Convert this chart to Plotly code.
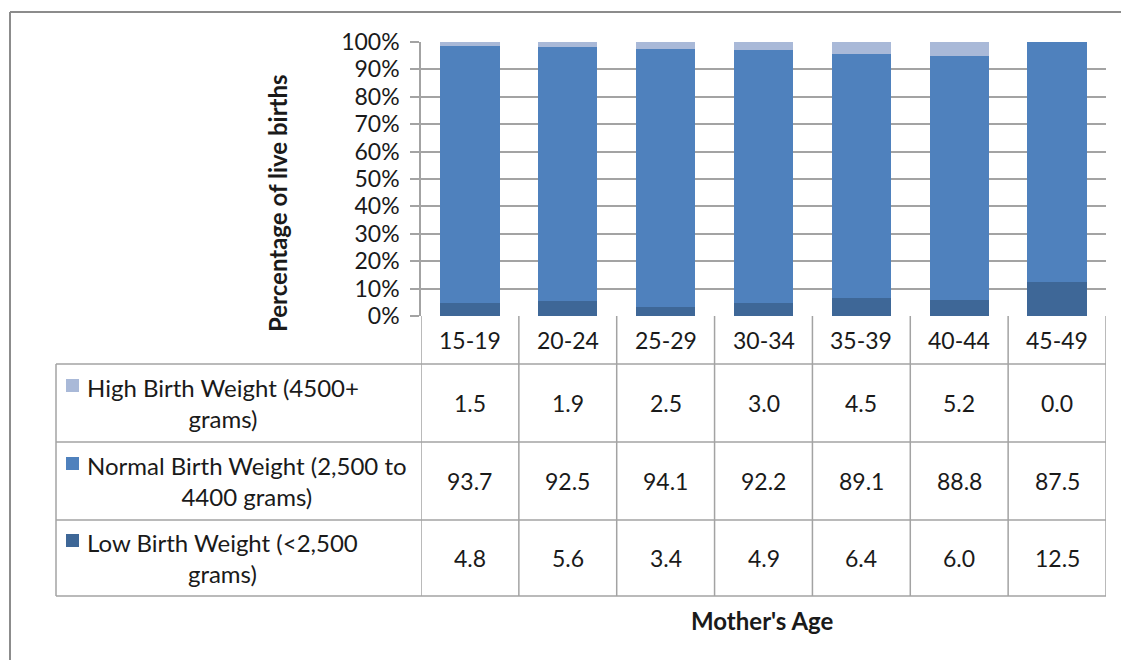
import plotly.graph_objects as go

# Mother's age groups and birth-weight shares (% of live births)
ages = ["15-19", "20-24", "25-29", "30-34", "35-39", "40-44", "45-49"]
high_bw = [1.5, 1.9, 2.5, 3.0, 4.5, 5.2, 0.0]
normal_bw = [93.7, 92.5, 94.1, 92.2, 89.1, 88.8, 87.5]
low_bw = [4.8, 5.6, 3.4, 4.9, 6.4, 6.0, 12.5]
series_names = [
    "High Birth Weight (4500+<br>grams)",
    "Normal Birth Weight (2,500 to<br>4400 grams)",
    "Low Birth Weight (<2,500<br>grams)",
]
y_ticks = [0, 10, 20, 30, 40, 50, 60, 70, 80, 90, 100]

W, H = 1121, 660
FONT = "Lato, 'Open Sans', sans-serif"
TXT = "#1a1a1a"
LINE = "#a3a3a3"
COLORS = {"low": "#3e6797", "normal": "#4f81bd", "high": "#a9b9d8"}

# pixel layout helpers
PX_L, PX_R = 421, 1106          # plot area left/right
PX_T, PX_B = 42, 316            # plot area top/bottom
TBL_L = 56                      # table row-header column left
ROW_Y = [364, 442, 520, 596]    # table horizontal rules


def px(x):
    return x / W


def py(y):
    return 1 - y / H


def label(x, y, text, size=23, xref="paper", xanchor="center", bold=False, **kw):
    return dict(x=x, y=y, xref=xref, yref="paper",
                text=f"<b>{text}</b>" if bold else text,
                showarrow=False, xanchor=xanchor, yanchor="middle",
                font=dict(family=FONT, size=size, color=TXT), **kw)


fig = go.Figure()
for vals, key, name in [(low_bw, "low", series_names[2]),
                        (normal_bw, "normal", series_names[1]),
                        (high_bw, "high", series_names[0])]:
    fig.add_trace(go.Bar(x=ages, y=vals, name=name.replace("<br>", " "),
                         marker=dict(color=COLORS[key], line=dict(width=0)),
                         showlegend=False, hoverinfo="x+y"))

shapes = []
annotations = []

# outer chart-area border (left and top edges)
shapes.append(dict(type="line", xref="paper", yref="paper",
                   x0=px(10), x1=px(W + 5), y0=py(12), y1=py(12),
                   line=dict(color="#8c8c8c", width=2)))
shapes.append(dict(type="line", xref="paper", yref="paper",
                   x0=px(10), x1=px(10), y0=py(12), y1=py(H + 5),
                   line=dict(color="#8c8c8c", width=2)))

# data table: vertical rules between age columns
for i in range(len(ages) + 1):
    shapes.append(dict(type="line", xref="x", yref="paper",
                       x0=i - 0.5, x1=i - 0.5, y0=py(PX_B), y1=py(ROW_Y[-1]),
                       line=dict(color=LINE, width=1.5)))
# left edge of the row-header column
shapes.append(dict(type="line", xref="paper", yref="paper",
                   x0=px(TBL_L), x1=px(TBL_L), y0=py(ROW_Y[0]), y1=py(ROW_Y[-1]),
                   line=dict(color=LINE, width=1.5)))
# horizontal rules
for yy in ROW_Y:
    shapes.append(dict(type="line", xref="paper", yref="paper",
                       x0=px(TBL_L), x1=px(PX_R), y0=py(yy), y1=py(yy),
                       line=dict(color=LINE, width=1.5)))

# category labels in the header row
for a in ages:
    annotations.append(label(a, py((PX_B + ROW_Y[0]) / 2), a, xref="x"))

# table rows: legend key, series name, values
rows = [(high_bw, "high", series_names[0]),
        (normal_bw, "normal", series_names[1]),
        (low_bw, "low", series_names[2])]
for r, (vals, key, name) in enumerate(rows):
    top, bot = ROW_Y[r], ROW_Y[r + 1]
    mid = (top + bot) / 2
    shapes.append(dict(type="rect", xref="paper", yref="paper",
                       x0=px(66), x1=px(79), y0=py(mid - 24), y1=py(mid - 11),
                       fillcolor=COLORS[key], line=dict(width=0)))
    annotations.append(label(px(85), py(mid), name, size=24,
                             xanchor="left", align="center"))
    for a, v in zip(ages, vals):
        annotations.append(label(a, py(mid), f"{v:.1f}", xref="x"))

# axis titles
annotations.append(label(px(277), py(203), "Percentage of live births",
                         size=24, bold=True, textangle=-90))
annotations.append(label(px(762), py(620), "Mother's Age", size=24, bold=True))

fig.update_layout(
    width=W, height=H,
    margin=dict(l=0, r=0, t=0, b=0),
    paper_bgcolor="white", plot_bgcolor="white",
    barmode="stack", barnorm="percent", bargap=0.395,
    xaxis=dict(domain=[px(PX_L), px(PX_R)], range=[-0.5, len(ages) - 0.5],
               showticklabels=False, ticks="", showgrid=False,
               showline=False, zeroline=False, fixedrange=True),
    yaxis=dict(domain=[py(PX_B), py(PX_T)], range=[0, 100],
               tickvals=y_ticks, ticktext=[f"{t}%" for t in y_ticks],
               ticks="outside", ticklen=9, tickcolor=LINE, tickwidth=1.5,
               showgrid=True, gridcolor=LINE, gridwidth=1.5,
               showline=True, linecolor=LINE, linewidth=1.5,
               zeroline=False, ticklabelstandoff=6, automargin=False,
               tickfont=dict(family=FONT, size=23, color=TXT), fixedrange=True),
    shapes=shapes,
    annotations=annotations,
)

fig.write_html("out.html")
